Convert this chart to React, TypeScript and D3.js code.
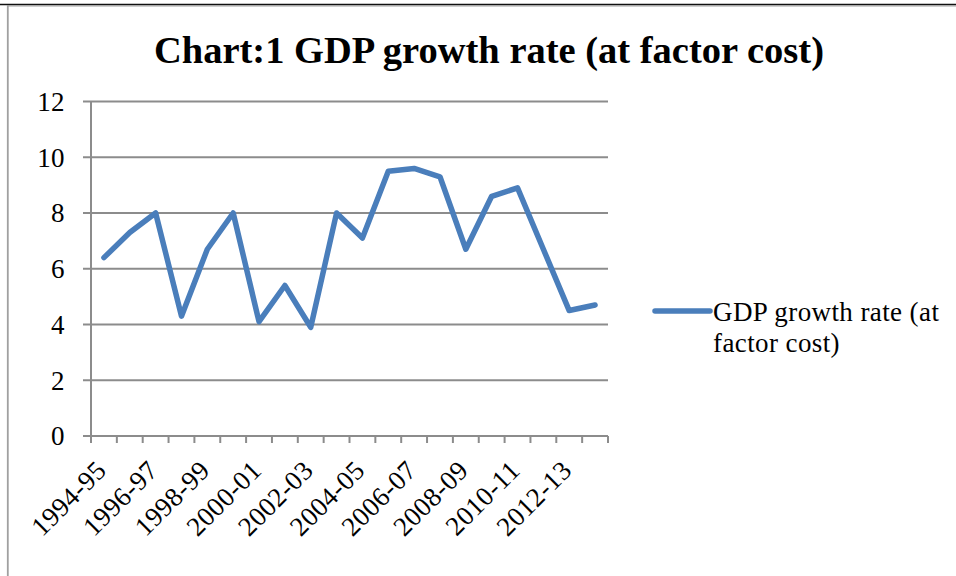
import React from "react";
import * as d3 from "d3";

const categories = [
  "1994-95", "1995-96", "1996-97", "1997-98", "1998-99", "1999-00", "2000-01",
  "2001-02", "2002-03", "2003-04", "2004-05", "2005-06", "2006-07", "2007-08",
  "2008-09", "2009-10", "2010-11", "2011-12", "2012-13", "2013-14",
];
const gdpGrowth = [
  6.4, 7.3, 8.0, 4.3, 6.7, 8.0, 4.1, 5.4, 3.9, 8.0,
  7.1, 9.5, 9.6, 9.3, 6.7, 8.6, 8.9, 6.7, 4.5, 4.7,
];
const yTicks = [0, 2, 4, 6, 8, 10, 12];
const shownLabels = [
  "1994-95", "1996-97", "1998-99", "2000-01", "2002-03",
  "2004-05", "2006-07", "2008-09", "2010-11", "2012-13",
];
const title = "Chart:1 GDP growth rate (at factor cost)";
const legendLines = ["GDP growth rate (at", "factor cost)"];

const W = 956;
const H = 576;
const plot = { left: 91, right: 608, top: 101.5, bottom: 436 };
const lineColor = "#4a7ebb";
const gridColor = "#8c8c8c";
const font = "'Liberation Serif', 'Times New Roman', serif";
const labelSize = 27;
const labelSpacing = 0.4;

export default function App() {
  const x = d3
    .scaleBand<string>()
    .domain(categories)
    .range([plot.left, plot.right])
    .padding(0);
  const y = d3.scaleLinear().domain([0, 12]).range([plot.bottom, plot.top]);
  const cx = (c: string) => (x(c) as number) + x.bandwidth() / 2;

  const line = d3
    .line<number>()
    .x((_, i) => cx(categories[i]))
    .y((d) => y(d));

  const boundaries = d3.range(categories.length + 1).map(
    (i) => plot.left + i * x.bandwidth()
  );

  return (
    <svg
      width={W}
      height={H}
      style={{ position: "absolute", left: 0, top: 0, background: "#fff" }}
    >
      <rect x={0} y={0} width={W} height={H} fill="#fff" />
      {/* frame */}
      <line x1={0} x2={W} y1={4.5} y2={4.5} stroke="#111" strokeWidth={1.5} />
      <line x1={7} x2={W} y1={5.8} y2={5.8} stroke="#a0a0a0" strokeWidth={1.2} />
      <line x1={7.8} x2={7.8} y1={5} y2={H} stroke="#a0a0a0" strokeWidth={1.8} />

      {/* title */}
      <text
        x={489}
        y={63}
        textAnchor="middle"
        fontFamily={font}
        fontWeight="bold"
        fontSize={38.5}
        fill="#000"
      >
        {title}
      </text>

      {/* gridlines */}
      {yTicks.map((t) => (
        <g key={t}>
          <line
            x1={plot.left - 8}
            x2={plot.right}
            y1={y(t)}
            y2={y(t)}
            stroke={gridColor}
            strokeWidth={2}
          />
          <text
            x={65}
            y={y(t)}
            dy="0.35em"
            textAnchor="end"
            fontFamily={font}
            fontSize={labelSize}
            letterSpacing={labelSpacing}
            fill="#000"
          >
            {t}
          </text>
        </g>
      ))}

      {/* y axis */}
      <line
        x1={plot.left}
        x2={plot.left}
        y1={plot.top}
        y2={plot.bottom + 7}
        stroke={gridColor}
        strokeWidth={2}
      />
      {/* x ticks */}
      {boundaries.map((bx, i) => (
        <line
          key={i}
          x1={bx}
          x2={bx}
          y1={plot.bottom}
          y2={plot.bottom + 7}
          stroke={gridColor}
          strokeWidth={2}
        />
      ))}

      {/* x labels */}
      {categories.map((c) =>
        shownLabels.includes(c) ? (
          <text
            key={c}
            transform={`translate(${cx(c) + 4},${472}) rotate(-45)`}
            textAnchor="end"
            fontFamily={font}
            fontSize={labelSize}
            letterSpacing={labelSpacing}
            fill="#000"
          >
            {c}
          </text>
        ) : null
      )}

      {/* series */}
      <path
        d={line(gdpGrowth) || ""}
        fill="none"
        stroke={lineColor}
        strokeWidth={5.5}
        strokeLinejoin="round"
        strokeLinecap="round"
      />

      {/* legend */}
      <line
        x1={655}
        x2={710}
        y1={311}
        y2={311}
        stroke={lineColor}
        strokeWidth={5.5}
        strokeLinecap="round"
      />
      {legendLines.map((l, i) => (
        <text
          key={i}
          x={713}
          y={320.7 + i * 31}
          fontFamily={font}
          fontSize={labelSize}
          letterSpacing={labelSpacing}
          fill="#000"
        >
          {l}
        </text>
      ))}
    </svg>
  );
}
